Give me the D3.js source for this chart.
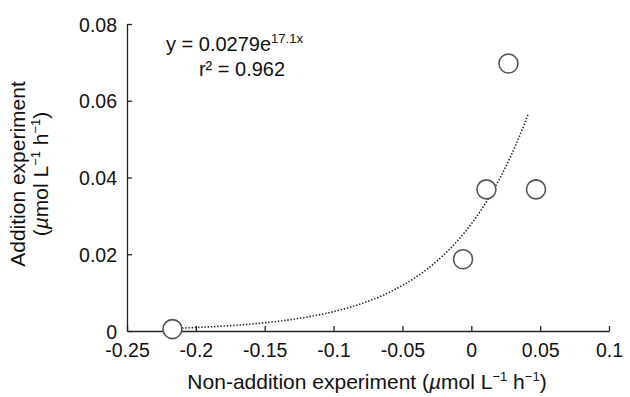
<!DOCTYPE html>
<html>
<head>
<meta charset="utf-8">
<script src="https://cdn.jsdelivr.net/npm/d3@7"></script>
<style>
  body { margin: 0; background: #fff; }
  svg text { font-family: "Liberation Sans", Arial, Helvetica, sans-serif; fill: #111; }
</style>
</head>
<body>
<svg id="chart" width="630" height="397"></svg>
<script>
// measured points (non-addition vs addition)
const nonAddition = [-0.217, -0.006, 0.011, 0.027, 0.047]
const addition = [0.0005, 0.0187, 0.0369, 0.0697, 0.0369]

// fitted curve y = a * e^(b x)
const fitA = 0.0279
const fitB = 17.1
const fitRange = [-0.217, 0.0415]

const xTicks = [-0.25, -0.2, -0.15, -0.1, -0.05, 0, 0.05, 0.1]
const yTicks = [0, 0.02, 0.04, 0.06, 0.08]

const svg = d3.select("#chart")

const x = d3.scaleLinear().domain([-0.25, 0.1]).range([127, 609])
const y = d3.scaleLinear().domain([0, 0.08]).range([331, 24])

const fmt = d => d === 0 ? "0" : String(d)

// x axis
const xAxis = svg.append("g")
  .attr("transform", `translate(0,${y(0)})`)
  .call(d3.axisBottom(x).tickValues(xTicks).tickSize(-5).tickSizeOuter(0).tickFormat(fmt))
xAxis.selectAll("text").attr("y", 26).attr("dy", 0).style("font-size", "19.5px")

// y axis
const yAxis = svg.append("g")
  .attr("transform", `translate(${x(-0.25)},0)`)
  .call(d3.axisLeft(y).tickValues(yTicks).tickSize(-5).tickSizeOuter(0).tickFormat(fmt))
yAxis.selectAll("text").attr("x", -10).attr("dy", "0.36em").style("font-size", "19.5px")

svg.selectAll(".domain, .tick line").attr("stroke", "#222").attr("stroke-width", 1.3)

// fitted curve
const curvePts = d3.range(0, 101).map(i => {
  const xv = fitRange[0] + (fitRange[1] - fitRange[0]) * i / 100
  return [xv, fitA * Math.exp(fitB * xv)]
})

svg.append("path")
  .datum(curvePts)
  .attr("fill", "none")
  .attr("stroke", "#222")
  .attr("stroke-width", 1.6)
  .attr("stroke-dasharray", "1.4,1.8")
  .attr("d", d3.line().x(d => x(d[0])).y(d => y(d[1])))

// points
svg.append("g")
  .selectAll("circle")
  .data(nonAddition.map((v, i) => [v, addition[i]]))
  .join("circle")
  .attr("cx", d => x(d[0]))
  .attr("cy", d => y(d[1]))
  .attr("r", 9.5)
  .attr("fill", "#fff")
  .attr("stroke", "#555")
  .attr("stroke-width", 1.6)

// equation
const eq = svg.append("text")
  .attr("x", 166)
  .attr("y", 51)
  .style("font-size", "20px")
eq.append("tspan").text("y = 0.0279e")
eq.append("tspan").attr("dy", -8).style("font-size", "13px").text("17.1x")

svg.append("text")
  .attr("x", 242)
  .attr("y", 76)
  .attr("text-anchor", "middle")
  .style("font-size", "20px")
  .text("r² = 0.962")

// axis titles
const xt = svg.append("text")
  .attr("x", 367)
  .attr("y", 389)
  .attr("text-anchor", "middle")
  .style("font-size", "21px")
xt.append("tspan").text("Non-addition experiment (")
xt.append("tspan").style("font-style", "italic").text("µ")
xt.append("tspan").text("mol L")
xt.append("tspan").attr("dy", -8).style("font-size", "13px").text("−1")
xt.append("tspan").attr("dy", 8).text(" h")
xt.append("tspan").attr("dy", -8).style("font-size", "13px").text("−1")
xt.append("tspan").attr("dy", 8).text(")")

const yt = svg.append("g").attr("transform", "translate(0,174) rotate(-90)")
yt.append("text")
  .attr("x", 0)
  .attr("y", 25)
  .attr("text-anchor", "middle")
  .style("font-size", "21px")
  .text("Addition experiment")
const yt2 = yt.append("text")
  .attr("x", 0)
  .attr("y", 48)
  .attr("text-anchor", "middle")
  .style("font-size", "21px")
yt2.append("tspan").text("(")
yt2.append("tspan").style("font-style", "italic").text("µ")
yt2.append("tspan").text("mol L")
yt2.append("tspan").attr("dy", -8).style("font-size", "13px").text("−1")
yt2.append("tspan").attr("dy", 8).text(" h")
yt2.append("tspan").attr("dy", -8).style("font-size", "13px").text("−1")
yt2.append("tspan").attr("dy", 8).text(")")
</script>
</body>
</html>
